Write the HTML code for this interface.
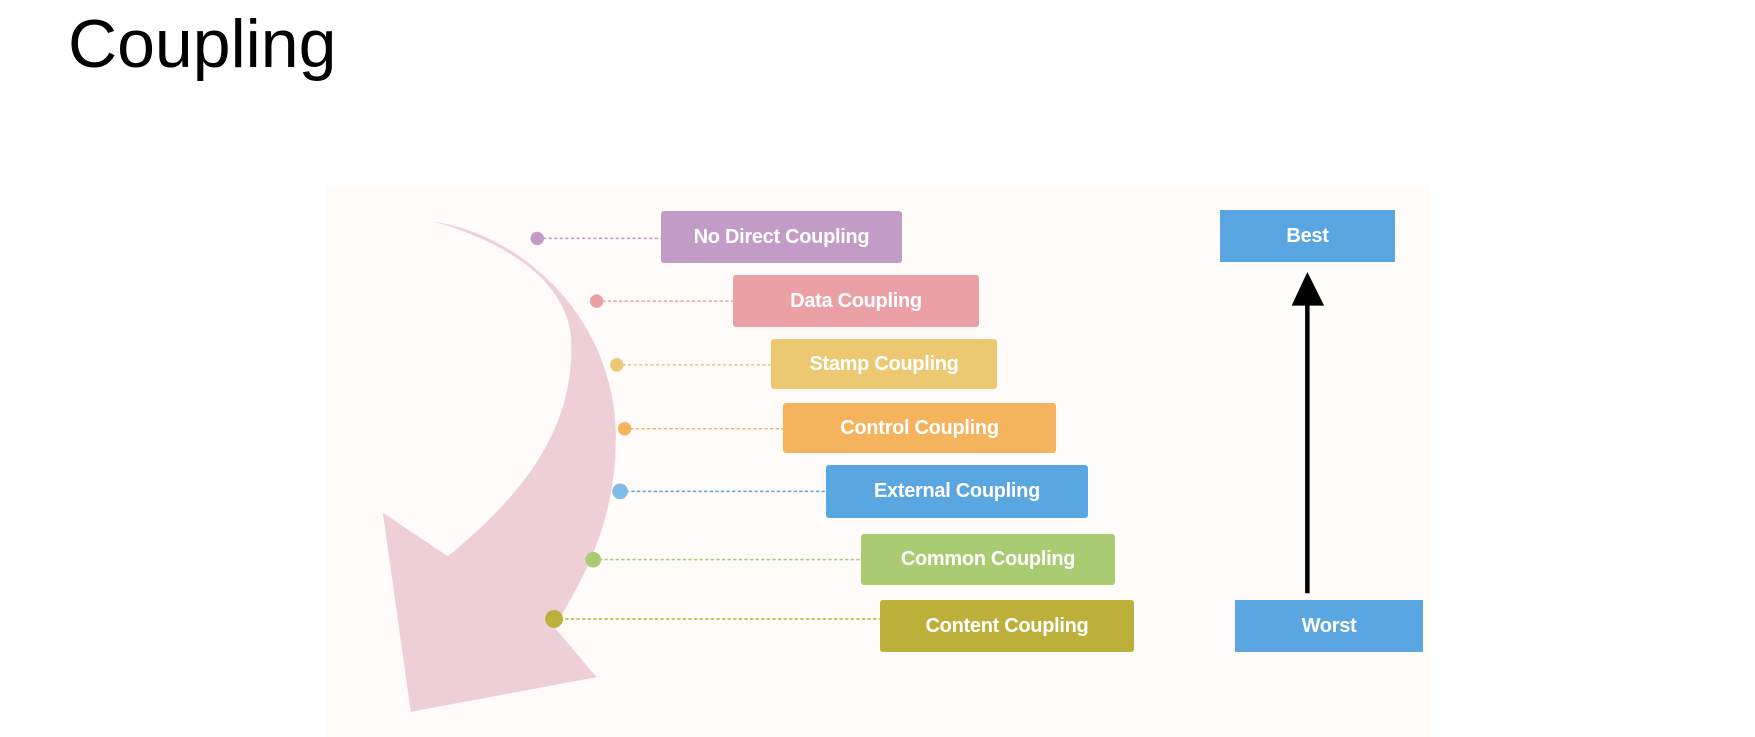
<!DOCTYPE html>
<html><head><meta charset="utf-8"><style>
body{margin:0;width:1755px;height:737px;background:#fff;overflow:hidden;position:relative;font-family:"Liberation Sans",sans-serif}
.t{position:absolute;left:68px;top:5px;font-size:68px;color:#000}
.b{position:absolute;color:#fff;font-weight:bold;font-size:20px;display:flex;align-items:center;justify-content:center;border-radius:3px;letter-spacing:-0.3px}
</style></head><body>
<div style="position:absolute;left:325px;top:185px;width:1105px;height:552px;background:#fefbf8"></div>
<div class="t">Coupling</div>
<svg width="1755" height="737" style="position:absolute;left:0;top:0">
<g transform="scale(1.1193)">
<path d="M387,198 C470,210 555,290 550,400 C548,470 520,520 495,560 L533,605 L367,636 L342,458 L400,497 C470,440 515,380 510,300 C505,250 450,215 387,198 Z" fill="#efcfd6"/>
<g stroke-width="1.3" stroke-dasharray="3,2" fill="none">
<line x1="480" y1="213" x2="591" y2="213" stroke="#c39bc7"/>
<line x1="533" y1="269" x2="655" y2="269" stroke="#eba0a6"/>
<line x1="551" y1="326" x2="689" y2="326" stroke="#ecc873"/>
<line x1="558" y1="383" x2="700" y2="383" stroke="#f5b35e"/>
<line x1="554" y1="439" x2="738" y2="439" stroke="#5aa6e0"/>
<line x1="530" y1="500" x2="769" y2="500" stroke="#a9cc72"/>
<line x1="495" y1="553" x2="786" y2="553" stroke="#bcb03a"/>
</g>
<circle cx="480" cy="213" r="6" fill="#c39bc7"/>
<circle cx="533" cy="269" r="6" fill="#eba0a6"/>
<circle cx="551" cy="326" r="6" fill="#ecc873"/>
<circle cx="558" cy="383" r="6" fill="#f5b35e"/>
<circle cx="554" cy="439" r="7" fill="#7fbbe6"/>
<circle cx="530" cy="500" r="7" fill="#a9cc72"/>
<circle cx="495" cy="553" r="8" fill="#bcb03a"/>
<line x1="1168" y1="530" x2="1168" y2="268" stroke="#000" stroke-width="4"/>
<polygon points="1168,243 1154,273 1183,273" fill="#000"/>
</g>
</svg>
<div class="b" style="left:661px;top:211px;width:241px;height:52px;background:#c39bc7">No Direct Coupling</div>
<div class="b" style="left:733px;top:275px;width:246px;height:52px;background:#eba0a6">Data Coupling</div>
<div class="b" style="left:771px;top:339px;width:226px;height:50px;background:#ecc873">Stamp Coupling</div>
<div class="b" style="left:783px;top:403px;width:273px;height:50px;background:#f5b35e">Control Coupling</div>
<div class="b" style="left:826px;top:465px;width:262px;height:53px;background:#5aa6e0">External Coupling</div>
<div class="b" style="left:861px;top:534px;width:254px;height:51px;background:#a9cc72">Common Coupling</div>
<div class="b" style="left:880px;top:600px;width:254px;height:52px;background:#bcb03a">Content Coupling</div>
<div class="b" style="left:1220px;top:210px;width:175px;height:52px;background:#5aa6e0;border-radius:0">Best</div>
<div class="b" style="left:1235px;top:600px;width:188px;height:52px;background:#5aa6e0;border-radius:0">Worst</div>
</body></html>
